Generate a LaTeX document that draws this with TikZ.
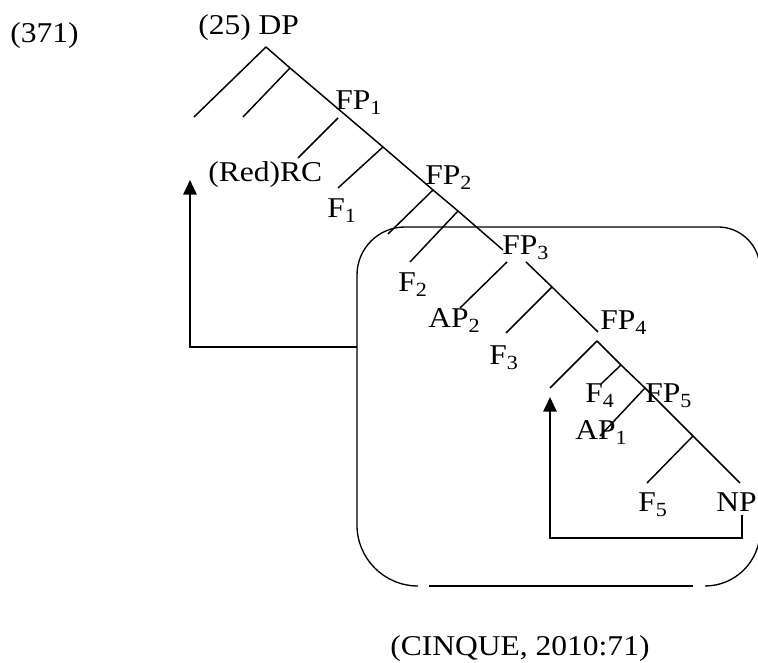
\documentclass[tikz,border=0pt]{standalone}
\usepackage{fontspec}
\setmainfont{Liberation Serif}
\usepackage{tikz}
\usetikzlibrary{arrows.meta}

\begin{document}
\begin{tikzpicture}[
    x=0.75pt, y=0.75pt,
    lab/.style={anchor=base west, inner sep=0pt, xscale=1.1, font=\fontsize{21.5}{25}\selectfont},
    branch/.style={line width=1.1pt},
    movement/.style={line width=1.4pt, -{Triangle[length=11pt, width=10pt]}},
    frame/.style={line width=1pt}
]
    \useasboundingbox (0,0) rectangle (758,663);

    % labels
    \node[lab] (ex)   at (10,620)  {(371)};
    \node[lab] (dp)   at (198,628) {(25) DP};
    \node[lab] (fp1)  at (335,553) {FP\textsubscript{1}};
    \node[lab] (rc)   at (208,481) {(Red)RC};
    \node[lab] (fp2)  at (425,478) {FP\textsubscript{2}};
    \node[lab] (f1)   at (327,445) {F\textsubscript{1}};
    \node[lab] (f2)   at (398,371) {F\textsubscript{2}};
    \node[lab] (fp3)  at (502,408) {FP\textsubscript{3}};
    \node[lab] (ap2)  at (428,335) {AP\textsubscript{2}};
    \node[lab] (f3)   at (489,298) {F\textsubscript{3}};
    \node[lab] (fp4)  at (600,333) {FP\textsubscript{4}};
    \node[lab] (f4)   at (585,260) {F\textsubscript{4}};
    \node[lab] (fp5)  at (645,260) {FP\textsubscript{5}};
    \node[lab] (ap1)  at (575,223) {AP\textsubscript{1}};
    \node[lab] (f5)   at (638,151) {F\textsubscript{5}};
    \node[lab] (np)   at (716,151) {NP};
    \node[lab] (cite) at (390,7)   {(CINQUE, 2010:71)};

    % branching points
    \coordinate (apex)   at (266,616);
    \coordinate (dpl)    at (194,546);
    \coordinate (dpbar)  at (290,595);
    \coordinate (dpbl)   at (243,546);
    \coordinate (fp1b)   at (338,545);
    \coordinate (rct)    at (298,505);
    \coordinate (fp1bar) at (383,516);
    \coordinate (f1t)    at (338,475);
    \coordinate (fp2b)   at (433,473);
    \coordinate (fp2l)   at (388,429);
    \coordinate (fp2bar) at (458,452);
    \coordinate (f2t)    at (410,401);
    \coordinate (fp3t)   at (503,413);
    \coordinate (fp3b)   at (507,401);
    \coordinate (fp3s)   at (526,401);
    \coordinate (ap2t)   at (460,355);
    \coordinate (fp3bar) at (552,376);
    \coordinate (f3t)    at (506,330);
    \coordinate (fp4t)   at (598,331);
    \coordinate (fp4b)   at (597,322);
    \coordinate (fp4l)   at (550,275);
    \coordinate (fp4bar) at (621,298);
    \coordinate (f4t)    at (601,279);
    \coordinate (fp5b)   at (645,275);
    \coordinate (ap1t)   at (600,227);
    \coordinate (fp5bar) at (693,227);
    \coordinate (f5t)    at (647,180);
    \coordinate (npt)    at (740,180);

    % tree
    \draw[branch] (apex) -- (dpbar) -- (fp1bar) -- (fp2b) -- (fp2bar) -- (fp3t);
    \draw[branch] (apex) -- (dpl);
    \draw[branch] (dpbar) -- (dpbl);
    \draw[branch] (fp1b) -- (rct);
    \draw[branch] (fp1bar) -- (f1t);
    \draw[branch] (fp2b) -- (fp2l);
    \draw[branch] (fp2bar) -- (f2t);
    \draw[branch] (fp3b) -- (ap2t);
    \draw[branch] (fp3s) -- (fp3bar) -- (fp4t);
    \draw[branch] (fp3bar) -- (f3t);
    \draw[branch] (fp4b) -- (fp4bar) -- (fp5b) -- (fp5bar) -- (npt);
    \draw[branch] (fp4b) -- (fp4l);
    \draw[branch] (fp4bar) -- (f4t);
    \draw[branch] (fp5b) -- (ap1t);
    \draw[branch] (fp5bar) -- (f5t);

    % rounded box, open at the bottom
    \coordinate (boxl) at (357,316);
    \draw[frame] (357,388) arc[start angle=180, end angle=90, radius=36pt]
        -- (718,436) arc[start angle=90, end angle=0, radius=31.5pt]
        -- (760,132) arc[start angle=0, end angle=-90, radius=41.25pt];
    \draw[frame] (693,77) -- (429,77);
    \draw[frame] (418,77) arc[start angle=270, end angle=180, radius=45.75pt]
        -- (357,388);

    % movement arrows
    \coordinate (rcup) at (190,483);
    \coordinate (ap1up) at (550,266);
    \draw[movement] (boxl) -- (190,316) -- (rcup);
    \draw[movement] (742,148) coordinate (npb) (npb) |- (ap1up |- 0,125) -- (ap1up);
\end{tikzpicture}
\end{document}
